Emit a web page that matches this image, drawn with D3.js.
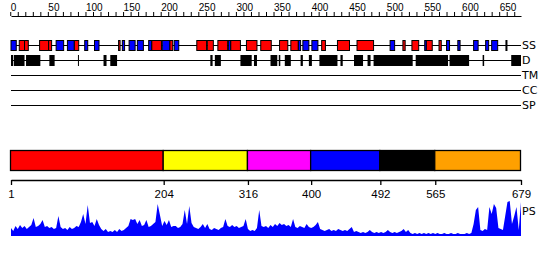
<!DOCTYPE html>
<html>
<head>
<meta charset="utf-8">
<script src="https://cdn.jsdelivr.net/npm/d3@7"></script>
<style>
  body { margin: 0; background: #fff; }
  svg { display: block; font-family: "DejaVu Sans", sans-serif; }
</style>
</head>
<body>
<svg id="chart" width="550" height="260"></svg>
<script>
const seqLength = 679;

// secondary structure: helix (red) and strand (blue), residue ranges
const ssHelix = [[12,19],[19,24],[39,51],[51,55],[85,91],[144,146],[188,201],[212,216],
  [248,261],[262,270],[276,289],[293,306],[314,328],[333,347],[358,369],[373,383],
  [414,419],[435,451],[461,483],[522,525],[534,543],[553,561],[570,573]];
const ssStrand = [[1,8],[61,71],[76,85],[99,103],[112,118],[149,152],[158,166],[169,177],
  [184,188],[202,212],[218,224],[290,293],[383,386],[389,397],[401,409],[505,511],
  [551,553],[580,584],[595,598],[616,622],[632,636],[640,648],[659,660]];

// disordered regions
const disorder = [[1,4],[5,19],[21,40],[52,59],[90,91],[124,128],[133,142],[266,269],
  [272,280],[306,321],[324,328],[346,355],[357,359],[365,373],[386,389],[397,401],
  [411,435],[439,442],[457,469],[475,479],[483,535],[539,582],[584,610],[628,630],[666,679]];

const rowLabels = ["SS", "D", "TM", "CC", "SP"];

// domain boundaries and colours
const domainBounds = [1, 204, 316, 400, 492, 565, 679];
const domainColors = ["#ff0000", "#ffff00", "#ff00ff", "#0000ff", "#000000", "#ffa000"];

// PS profile, one value every 3 residues starting at residue 1
const psScores = [
  8,5,10,7,11,8,10,7,9,11, 18,9,10,12,16,9,10,8,9,7,
  8,20,9,7,8,6,9,7,8,10, 9,14,22,12,31,13,14,10,17,11,
  7,5,7,4,5,4,6,4,7,5, 6,8,10,17,16,17,12,16,10,11,
  16,9,10,12,14,32,21,10,15,11, 16,9,10,10,8,9,12,26,12,30,
  13,9,8,7,9,12,8,12,7,6, 8,7,6,8,9,17,10,9,11,9,
  10,8,9,10,17,7,5,6,5,8, 26,10,9,10,8,11,9,12,10,13,
  11,12,10,11,9,17,9,8,10,9, 8,12,9,8,9,11,14,7,6,5,
  6,7,5,6,5,7,6,5,6,5, 7,9,4,5,4,3,4,3,4,6,
  4,3,4,3,4,3,4,6,4,3, 4,3,4,5,7,4,6,3,2,3,
  2,3,2,3,2,3,2,3,2,3, 2,2,3,2,2,3,2,2,3,2,
  2,2,3,2,3,12,26,29,6,5, 7,6,29,22,32,28,8,7,6,20,
  34,35,12,20,29,6,34
];

const svg = d3.select("#chart");
const x = d3.scaleLinear().domain([1, seqLength]).range([11, 521]);

//top ruler
const ruler = svg.append("g").attr("transform", "translate(0,16)");
ruler.call(
  d3.axisTop(x)
    .tickValues(d3.range(0, 671, 10))
    .tickSize(4)
    .tickSizeOuter(0)
    .tickPadding(1)
    .tickFormat(d => (d % 50 === 0 ? d : ""))
);
ruler.selectAll("text")
  .attr("text-anchor", "start")
  .attr("fill", "#000")
  .style("font-size", "10px");
ruler.selectAll("line, path").attr("stroke", "#000");

//feature rows
const rowY = d3.scalePoint().domain(rowLabels).range([45, 105]);

svg.selectAll(".row-line")
  .data(rowLabels)
  .enter()
  .append("line")
  .attr("x1", x(1))
  .attr("x2", x(seqLength))
  .attr("y1", d => rowY(d) + 0.5)
  .attr("y2", d => rowY(d) + 0.5)
  .attr("stroke", "#000")
  .attr("stroke-width", 1.2);

svg.selectAll(".row-label")
  .data(rowLabels)
  .enter()
  .append("text")
  .attr("x", x(seqLength) + 1)
  .attr("y", d => rowY(d) + 0.5)
  .attr("dy", "0.36em")
  .style("font-size", "11px")
  .text(d => d);

const ssData = ssHelix.map(d => ({ s: d[0], e: d[1], c: "#ff0000" }))
  .concat(ssStrand.map(d => ({ s: d[0], e: d[1], c: "#0000ff" })));

svg.append("g")
  .selectAll("rect")
  .data(ssData)
  .enter()
  .append("rect")
  .attr("x", d => x(d.s))
  .attr("width", d => Math.max(1, x(d.e) - x(d.s)))
  .attr("y", rowY("SS") - 4.5)
  .attr("height", 10)
  .attr("fill", d => d.c)
  .attr("stroke", "#000")
  .attr("stroke-width", 1);

svg.append("g")
  .selectAll("rect")
  .data(disorder)
  .enter()
  .append("rect")
  .attr("x", d => x(d[0]))
  .attr("width", d => Math.max(1, x(d[1]) - x(d[0])))
  .attr("y", rowY("D") - 5)
  .attr("height", 11)
  .attr("fill", "#000");

//domain bar
const domains = domainColors.map((c, i) => ({ s: domainBounds[i], e: domainBounds[i + 1], c }));
svg.append("g")
  .selectAll("rect")
  .data(domains)
  .enter()
  .append("rect")
  .attr("x", d => x(d.s) - 0.5)
  .attr("width", d => x(d.e) - x(d.s))
  .attr("y", 150.5)
  .attr("height", 20)
  .attr("fill", d => d.c)
  .attr("stroke", "#000")
  .attr("stroke-width", 1.3);

const domAxis = svg.append("g").attr("transform", "translate(0,180)");
domAxis.call(
  d3.axisBottom(x)
    .tickValues(domainBounds)
    .tickSize(5)
    .tickSizeOuter(0)
    .tickPadding(5)
);
domAxis.selectAll("text").attr("fill", "#000").style("font-size", "11.5px");
domAxis.selectAll("line, path").attr("stroke", "#000").attr("stroke-width", 1.3);

//PS profile
const psY = d3.scaleLinear().domain([0, 36]).range([236, 200]);
const area = d3.area()
  .x((d, i) => x(1 + i * 3))
  .y0(psY(0))
  .y1(d => psY(d));

svg.append("path")
  .datum(psScores)
  .attr("d", area)
  .attr("fill", "#0000ff");

svg.append("text")
  .attr("x", x(seqLength) + 1)
  .attr("y", 211)
  .attr("dy", "0.36em")
  .style("font-size", "11px")
  .text("PS");
</script>
</body>
</html>
